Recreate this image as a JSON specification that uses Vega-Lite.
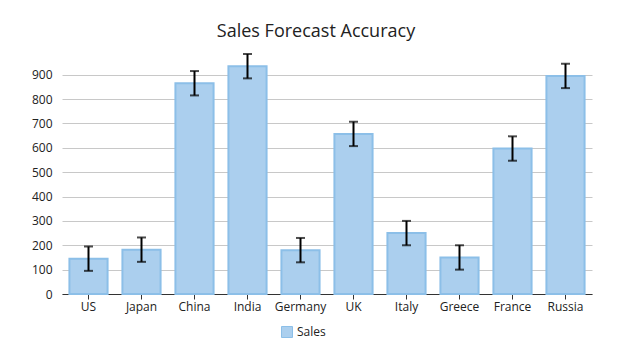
{
  "$schema": "https://vega.github.io/schema/vega-lite/v6.json",
  "width": 530,
  "height": 240,
  "autosize": "none",
  "padding": {"left": 62, "top": 54, "right": 41, "bottom": 63},
  "background": "white",
  "config": {"view": {"stroke": null}},
  "title": {"text": "Sales Forecast Accuracy", "font": "Open Sans", "fontSize": 18, "fontWeight": "normal", "color": "#222222", "offset": 12, "dx": -11},
  "data": {"values": [
    {"country": "US", "sales": 145, "low": 95, "high": 195},
    {"country": "Japan", "sales": 182, "low": 132, "high": 232},
    {"country": "China", "sales": 865, "low": 815, "high": 915},
    {"country": "India", "sales": 935, "low": 885, "high": 985},
    {"country": "Germany", "sales": 180, "low": 130, "high": 230},
    {"country": "UK", "sales": 657, "low": 607, "high": 707},
    {"country": "Italy", "sales": 250, "low": 200, "high": 300},
    {"country": "Greece", "sales": 150, "low": 100, "high": 200},
    {"country": "France", "sales": 597, "low": 547, "high": 647},
    {"country": "Russia", "sales": 895, "low": 845, "high": 945}
  ]},
  "encoding": {
    "x": {"field": "country", "type": "nominal", "sort": null,
      "scale": {"paddingInner": 0.28, "paddingOuter": 0.14},
      "axis": {"title": null, "labelAngle": 0, "domainColor": "#333333", "tickColor": "#333333", "tickSize": 5, "labelFont": "Open Sans", "labelFontSize": 12, "labelColor": "#222222", "labelPadding": 2, "grid": false}},
    "y": {"field": "sales", "type": "quantitative",
      "scale": {"domain": [0, 985], "nice": false},
      "axis": {"title": null, "values": [0, 100, 200, 300, 400, 500, 600, 700, 800, 900], "labelOverlap": false, "labelBound": false, "domain": false, "ticks": false, "gridColor": "#c8c8c8", "labelPadding": 10, "labelFont": "Open Sans", "labelFontSize": 12, "labelColor": "#222222"}}
  },
  "layer": [
    {
      "mark": {"type": "bar", "stroke": "#8cbfe8", "strokeWidth": 2},
      "encoding": {
        "fill": {"datum": "Sales", "type": "nominal", "scale": {"range": ["#abcfee"]},
          "legend": {"title": null, "orient": "none", "legendX": 219, "legendY": 272, "symbolType": "square", "symbolSize": 121, "symbolStrokeColor": "#8cbfe8", "symbolStrokeWidth": 1, "labelFont": "Open Sans", "labelFontSize": 12, "labelColor": "#222222", "padding": 0}}
      }
    },
    {
      "mark": {"type": "rule", "color": "black", "strokeWidth": 2},
      "encoding": {"y": {"field": "low", "type": "quantitative"}, "y2": {"field": "high"}}
    },
    {
      "mark": {"type": "tick", "color": "black", "thickness": 2, "size": 9},
      "encoding": {"y": {"field": "low", "type": "quantitative"}}
    },
    {
      "mark": {"type": "tick", "color": "black", "thickness": 2, "size": 9},
      "encoding": {"y": {"field": "high", "type": "quantitative"}}
    }
  ]
}
